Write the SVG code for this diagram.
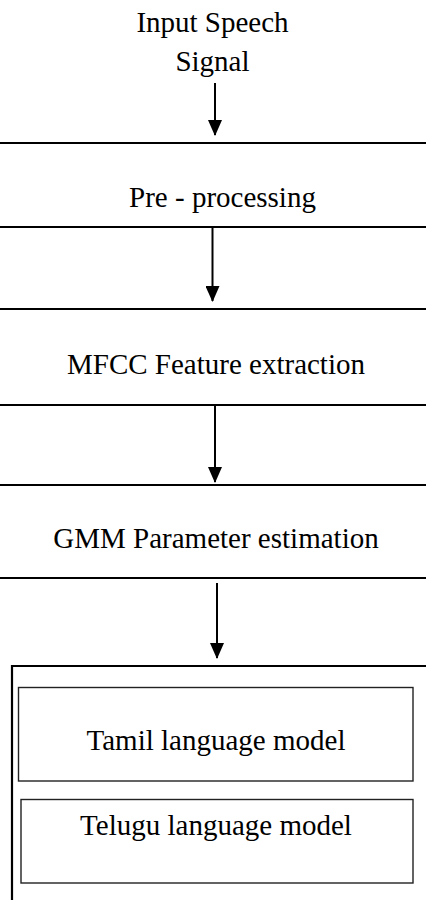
<svg xmlns="http://www.w3.org/2000/svg" width="426" height="900" viewBox="0 0 426 900">
<style>
text{font-family:"Liberation Serif","Times New Roman",serif;font-size:29px;fill:#000;text-anchor:middle}
.edge{stroke:#000;stroke-width:2.2;fill:none}
.inner{stroke:#222;stroke-width:1.4;fill:none}
.conn{stroke:#000;stroke-width:2;fill:none}
</style>
<defs>
<marker id="ah" markerWidth="8" markerHeight="7" refX="7.5" refY="3.5" orient="auto" markerUnits="strokeWidth">
<path d="M0,0 L8,3.5 L0,7 Z" fill="#000"/>
</marker>
</defs>
<g id="input">
<text x="212.5" y="32">Input Speech</text>
<text x="212.5" y="71">Signal</text>
</g>
<g id="preprocessing">
<line class="edge" x1="0" y1="143" x2="426" y2="143"/>
<line class="edge" x1="0" y1="227" x2="426" y2="227"/>
<text x="222.5" y="207">Pre - processing</text>
</g>
<g id="mfcc">
<line class="edge" x1="0" y1="309" x2="426" y2="309"/>
<line class="edge" x1="0" y1="405" x2="426" y2="405"/>
<text x="216" y="374">MFCC Feature extraction</text>
</g>
<g id="gmm">
<line class="edge" x1="0" y1="485" x2="426" y2="485"/>
<line class="edge" x1="0" y1="578" x2="426" y2="578"/>
<text x="216" y="548">GMM Parameter estimation</text>
</g>
<g id="models">
<path class="edge" d="M12,900 L12,666 L426,666"/>
</g>
<g id="tamil">
<rect class="inner" x="18.5" y="687.5" width="394.5" height="93.5"/>
<text x="216" y="750">Tamil language model</text>
</g>
<g id="telugu">
<rect class="inner" x="21" y="799.5" width="392" height="83.5"/>
<text x="216" y="835">Telugu language model</text>
</g>
<g id="connectors">
<line class="conn" x1="215" y1="83" x2="215" y2="135" marker-end="url(#ah)"/>
<line class="conn" x1="212.5" y1="228" x2="212.5" y2="301" marker-end="url(#ah)"/>
<line class="conn" x1="215" y1="406" x2="215" y2="482" marker-end="url(#ah)"/>
<line class="conn" x1="217" y1="583" x2="217" y2="658" marker-end="url(#ah)"/>
</g>
</svg>
